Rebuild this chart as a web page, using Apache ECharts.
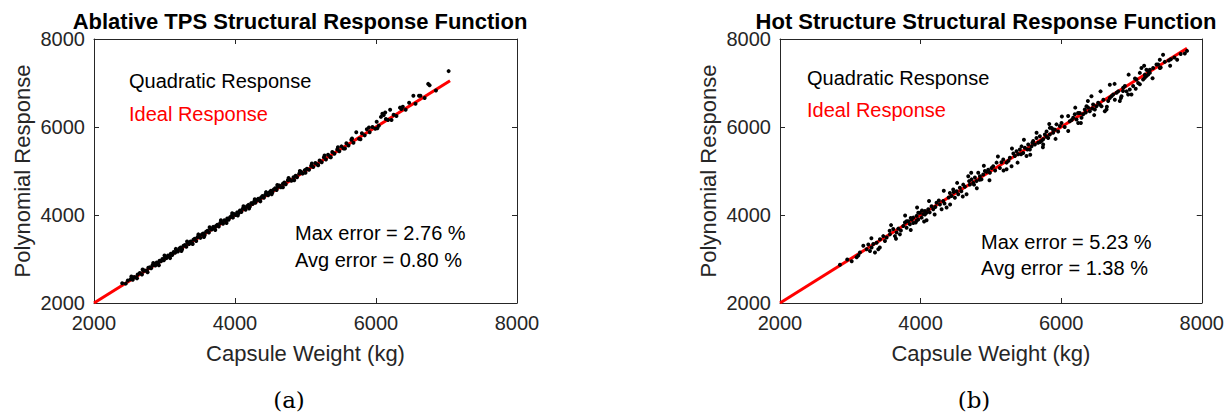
<!DOCTYPE html>
<html>
<head>
<meta charset="utf-8">
<script src="https://cdn.jsdelivr.net/npm/echarts@6/dist/echarts.min.js"></script>
<style>
html,body{margin:0;padding:0;background:#fff;}
#chart{width:1227px;height:418px;}
</style>
</head>
<body>
<div id="chart"></div>
<script>
// ---- data ----
var axisTicks = [2000, 4000, 6000, 8000];
var titles = ['Ablative TPS Structural Response Function', 'Hot Structure Structural Response Function'];
var xAxisName = 'Capsule Weight (kg)';
var yAxisName = 'Polynomial Response';
var legendQuad = 'Quadratic Response';
var legendIdeal = 'Ideal Response';
var errorsA = ['Max error = 2.76 %', 'Avg error = 0.80 %'];
var errorsB = ['Max error = 5.23 %', 'Avg error = 1.38 %'];
var panelLabels = ['(a)', '(b)'];

// ideal response line end points (weight)
var idealA = [2000, 7050];
var idealB = [2000, 7790];

// Ablative TPS: [capsule weight, polynomial response]
var ablativePoints = [
[2400,2450],[2450,2440],[2480,2510],[2520,2540],[2550,2530],[2570,2590],[2600,2580],[2620,2650],[2650,2680],[2680,2650],
[2700,2730],[2720,2740],[2750,2730],[2770,2800],[2790,2810],[2810,2790],[2830,2860],[2850,2870],[2870,2850],[2890,2920],
[2910,2890],[2930,2960],[2950,2950],[2970,3000],[2990,2970],[3010,3040],[3030,3020],[3050,3080],[3070,3060],[3090,3120],
[3110,3090],[3130,3160],[3150,3140],[3170,3200],[3190,3170],[3210,3240],[3230,3260],[3250,3220],[3270,3300],[3290,3320],
[3310,3280],[3330,3370],[3350,3340],[3370,3400],[3390,3360],[3410,3440],[3430,3460],[3450,3410],[3470,3500],[3490,3520],
[3510,3480],[3530,3560],[3550,3580],[3570,3540],[3590,3620],[3610,3640],[3630,3600],[3650,3690],[3670,3670],[3690,3730],
[3710,3690],[3730,3750],[3750,3780],[3770,3740],[3790,3820],[3810,3840],[3830,3800],[3850,3880],[3870,3860],[3890,3920],
[3910,3890],[3930,3950],[3950,3980],[3970,3940],[3990,4020],[4010,4000],[4030,4060],[4050,4040],[4070,4100],[4090,4070],
[4110,4140],[4130,4160],[4150,4120],[4170,4200],[4190,4230],[4210,4190],[4230,4270],[4250,4250],[4270,4300],[4290,4280],
[4310,4340],[4330,4370],[4350,4330],[4370,4400],[4390,4430],[4410,4390],[4430,4460],[4450,4490],[4470,4450],[4490,4520],
[4510,4550],[4530,4510],[4550,4580],[4570,4610],[4590,4570],[4610,4640],[4630,4670],[4650,4630],[4680,4710],[4700,4740],
[4720,4700],[4750,4790],[4780,4800],[4800,4780],[4830,4860],[4860,4890],[4880,4860],[4910,4940],[4940,4980],[4960,4940],
[4990,5020],[5020,5050],[5050,5030],[5080,5120],[5110,5090],[5140,5180],[5170,5150],[5200,5240],[5230,5200],[5260,5310],
[5290,5260],[5320,5370],[5350,5320],[5380,5430],[5410,5390],[5450,5490],[5480,5450],[5510,5560],[5540,5510],[5580,5630],
[5610,5580],[5650,5710],[5680,5640],[5720,5880],[5760,5730],[5800,5860],[5840,5810],[5870,5950],[5910,5880],[5950,6000],
[5990,5960],[6010,6120],[6040,6030],[6070,6230],[6090,6300],[6110,6270],[6140,6180],[6170,6160],[6200,6390],[6220,6160],
[6250,6280],[6290,6250],[6340,6440],[6360,6410],[6380,6460],[6420,6390],[6470,6550],[6530,6710],[6560,6530],[6610,6710],
[6630,6710],[6690,6660],[6740,6980],[6760,6950],[6850,6830],[7030,7270],
[2530,2600],[2610,2560],[2690,2760],[2760,2700],[2840,2910],[2920,2860],[3000,3080],[3080,3020],[3160,3230],[3240,3180],
[3320,3400],[3400,3340],[3480,3560],[3560,3500],[3640,3720],[3720,3660],[3800,3880],[3880,3820],[3960,4040],[4040,3990],
[4120,4200],[4200,4150],[4280,4360],[4360,4310],[4440,4520],[4520,4470],[4600,4680],[4680,4630],[4760,4840],[4840,4790],
[4920,5000],[5000,4960],[5090,5170],[5180,5130],[5270,5350],[5360,5310],[5460,5540],[5560,5510],[5660,5740],[5780,5720],
[5900,5990],[6020,5970],[6130,6330]
];

// Hot structure: [capsule weight, polynomial response]
var hotPoints = [
[2853,2870],[2957,2990],[3020,2950],[3090,3040],[3114,3080],[3137,3150],[3185,3300],[3232,3220],[3280,3180],[3303,3260],
[3256,3330],[3327,3340],[3375,3370],[3351,3150],[3398,3220],[3422,3450],[3469,3520],[3493,3410],[3517,3490],[3564,3560],
[3611,3680],[3659,3600],[3635,3520],[3706,3560],[3683,3690],[3754,3750],[3801,3710],[3777,3830],[3848,3790],[3825,3860],
[3872,3900],[3896,3820],[3943,3980],[3967,3900],[3991,4050],[4014,3940],[4038,4020],[4062,4090],[4085,4050],[4109,4130],
[3943,3870],[3896,3940],[3801,3860],[3967,4050],[4062,4010],[4085,3880],[4156,4200],[4180,4130],[4227,4280],[4275,4240],
[4322,4320],[4370,4170],[4299,4130],[4417,4500],[4464,4580],[4441,4430],[4512,4540],[4536,4470],[4559,4620],[4488,4390],
[4607,4690],[4654,4470],[4678,4880],[4701,4690],[4749,4730],[4725,4810],[4773,4850],[4796,4770],[4844,4880],[4820,4960],
[4891,4920],[4867,4810],[4915,5000],[4962,5030],[5010,5070],[4986,4960],[5033,5110],[5081,5190],[5128,5070],[5176,5260],
[5223,5190],[5270,5300],[5294,5110],[5223,5040],[5341,5340],[5365,5450],[5412,5490],[5389,5380],[5460,5410],[5436,5560],
[5483,5530],[5507,5340],[5531,5600],[5555,5490],[5602,5680],[5649,5750],[5626,5600],[5697,5790],[5744,5720],[5792,5900],
[5815,5750],[5839,5980],[5673,5640],[5768,5830],[5579,5560],[5720,5680],[5744,5600],[5863,5980],[5839,5830],[5886,5870],
[5934,6060],[5981,6020],[6005,6090],[5910,5940],[5957,5900],[6099,6250],[6123,6130],[6171,6210],[6218,6170],[6194,6290],
[6265,6320],[6242,6090],[6289,6210],[6313,6290],[6336,6400],[6384,6440],[6431,6700],[6360,6470],[6407,6360],[6455,6510],
[6502,6470],[6479,6400],[6550,6510],[6526,6550],[6574,6470],[6621,6360],[6645,6400],[6669,6590],[6692,6660],[6716,6700],
[6692,6960],[6740,6740],[6763,6620],[6787,6780],[6834,6590],[6858,6700],[6811,6810],[6882,6890],[6906,6930],[6929,6810],
[6976,6850],[6953,6740],[7000,6740],[7024,6930],[7071,7080],[7095,7000],[7119,6970],[7166,7080],[7142,7340],[7190,7190],
[7213,7160],[7237,7270],[7261,7300],[7308,7340],[7379,7420],[7403,7530],[7474,7480],[7403,7340],[7356,7420],[7213,7300],
[7237,7190],[7190,7120],[7119,7230],[7261,7230],[7531,7510],[7416,7350],[7560,7540],[7610,7580],[7650,7530],[7700,7660],
[7759,7670],[7790,7730],
[3560,3640],[3720,3650],[3860,3930],[3930,3830],[4020,4100],[4130,4060],[4210,4180],[4260,4330],[4340,4260],[4400,4400],
[4470,4520],[4580,4540],[4630,4640],[4690,4770],[4760,4690],[4840,4800],[4940,4980],[5060,5010],[5150,5200],[5250,5230],
[5320,5400],[5430,5380],[5520,5490],[5590,5640],[5700,5660],[5790,5780],[5880,5950],[6050,6000],[6150,6160],[6240,6320],
[6350,6330],[6440,6420],[6600,6620],[6880,6820],[7050,7100],
[3300,3470],[3420,3260],[3580,3770],[3650,3460],[3780,3990],[3860,3660],[3950,4170],[4050,3850],[4120,4320],[4200,4010],
[4330,4550],[4420,4240],[4520,4730],[4600,4420],[4720,4960],[4800,4610],[4900,5120],[4980,4790],[5100,5330],[5180,5010],
[5300,5510],[5380,5190],[5470,5710],[5560,5370],[5650,5870],[5740,5540],[5830,6070],[5920,5730],[6010,6240],[6100,5910],
[6200,6440],[6280,6090],[6380,6590],[6470,6270],[6560,6810],[6650,6460],[6760,6980],[6850,6660],[6960,7190],[7060,6870],
[7180,7390],[7300,7110],[7450,7640],[7550,7390]
];

// ---- chart ----
var FONT = '"Liberation Sans", Arial, Helvetica, sans-serif';
var AX = '#262626';
var grids = [
  {left: 94, top: 39, width: 423, height: 264},
  {left: 780, top: 39, width: 422, height: 264}
];
function plain(v) { return String(v); }

function mainX(gi) {
  return {
    type: 'value', gridIndex: gi, min: axisTicks[0], max: axisTicks[axisTicks.length - 1], interval: 2000,
    position: 'bottom',
    name: xAxisName, nameLocation: 'middle', nameGap: 39,
    nameTextStyle: {fontFamily: FONT, fontSize: 22, color: AX},
    axisLine: {show: true, onZero: false, lineStyle: {color: AX, width: 1}},
    axisTick: {show: true, inside: true, length: 5, lineStyle: {color: AX}},
    axisLabel: {fontFamily: FONT, fontSize: 20, color: AX, margin: 10, formatter: plain},
    splitLine: {show: false}
  };
}
function mainY(gi) {
  return {
    type: 'value', gridIndex: gi, min: axisTicks[0], max: axisTicks[axisTicks.length - 1], interval: 2000,
    position: 'left',
    name: yAxisName, nameLocation: 'middle', nameGap: 61, nameRotate: 90,
    nameTextStyle: {fontFamily: FONT, fontSize: 22, color: AX},
    axisLine: {show: true, onZero: false, lineStyle: {color: AX, width: 1}},
    axisTick: {show: true, inside: true, length: 5, lineStyle: {color: AX}},
    axisLabel: {fontFamily: FONT, fontSize: 20, color: AX, margin: 9, formatter: plain},
    splitLine: {show: false}
  };
}
function boxX(gi) {
  return {
    type: 'value', gridIndex: gi, min: 2000, max: 8000, interval: 2000, position: 'top',
    axisLine: {show: true, onZero: false, lineStyle: {color: AX, width: 1}},
    axisTick: {show: true, inside: true, length: 5, lineStyle: {color: AX}},
    axisLabel: {show: false}, splitLine: {show: false}
  };
}
function boxY(gi) {
  return {
    type: 'value', gridIndex: gi, min: 2000, max: 8000, interval: 2000, position: 'right',
    axisLine: {show: true, onZero: false, lineStyle: {color: AX, width: 1}},
    axisTick: {show: true, inside: true, length: 5, lineStyle: {color: AX}},
    axisLabel: {show: false}, splitLine: {show: false}
  };
}

function txt(x, y, text, size, color, align, weight, family) {
  return {
    type: 'text', x: x, y: y, z: 100,
    style: {
      text: text, fill: color, font: (weight || 'normal') + ' ' + size + 'px ' + (family || FONT),
      textAlign: align || 'left', textVerticalAlign: 'middle', align: align || 'left', verticalAlign: 'middle'
    }
  };
}

var chart = echarts.init(document.getElementById('chart'), null, {renderer: 'svg'});
chart.setOption({
  backgroundColor: '#ffffff',
  animation: false,
  grid: grids,
  xAxis: [mainX(0), mainX(1), boxX(0), boxX(1)],
  yAxis: [mainY(0), mainY(1), boxY(0), boxY(1)],
  series: [
    {type: 'line', xAxisIndex: 0, yAxisIndex: 0, data: idealA.map(function (v) { return [v, v]; }),
     showSymbol: false, symbol: 'none', lineStyle: {color: '#ff0000', width: 3}, z: 2},
    {type: 'scatter', xAxisIndex: 0, yAxisIndex: 0, data: ablativePoints, symbolSize: 4,
     itemStyle: {color: '#000', opacity: 1}, z: 3},
    {type: 'line', xAxisIndex: 1, yAxisIndex: 1, data: idealB.map(function (v) { return [v, v]; }),
     showSymbol: false, symbol: 'none', lineStyle: {color: '#ff0000', width: 3}, z: 2},
    {type: 'scatter', xAxisIndex: 1, yAxisIndex: 1, data: hotPoints, symbolSize: 4,
     itemStyle: {color: '#000', opacity: 1}, z: 3}
  ],
  graphic: [
    txt(300, 21, titles[0], 22, '#000', 'center', 'bold'),
    txt(986, 21, titles[1], 22, '#000', 'center', 'bold'),
    txt(129, 81, legendQuad, 20, '#000'),
    txt(129, 114, legendIdeal, 20, '#ff0000'),
    txt(807, 78, legendQuad, 20, '#000'),
    txt(807, 110, legendIdeal, 20, '#ff0000'),
    txt(295, 233, errorsA[0], 20, '#000'),
    txt(295, 260, errorsA[1], 20, '#000'),
    txt(981, 242, errorsB[0], 20, '#000'),
    txt(981, 268, errorsB[1], 20, '#000'),
    txt(289, 400, panelLabels[0], 23, '#000', 'center', 'normal', '"DejaVu Serif", serif'),
    txt(974, 400, panelLabels[1], 23, '#000', 'center', 'normal', '"DejaVu Serif", serif')
  ]
});
</script>
</body>
</html>
